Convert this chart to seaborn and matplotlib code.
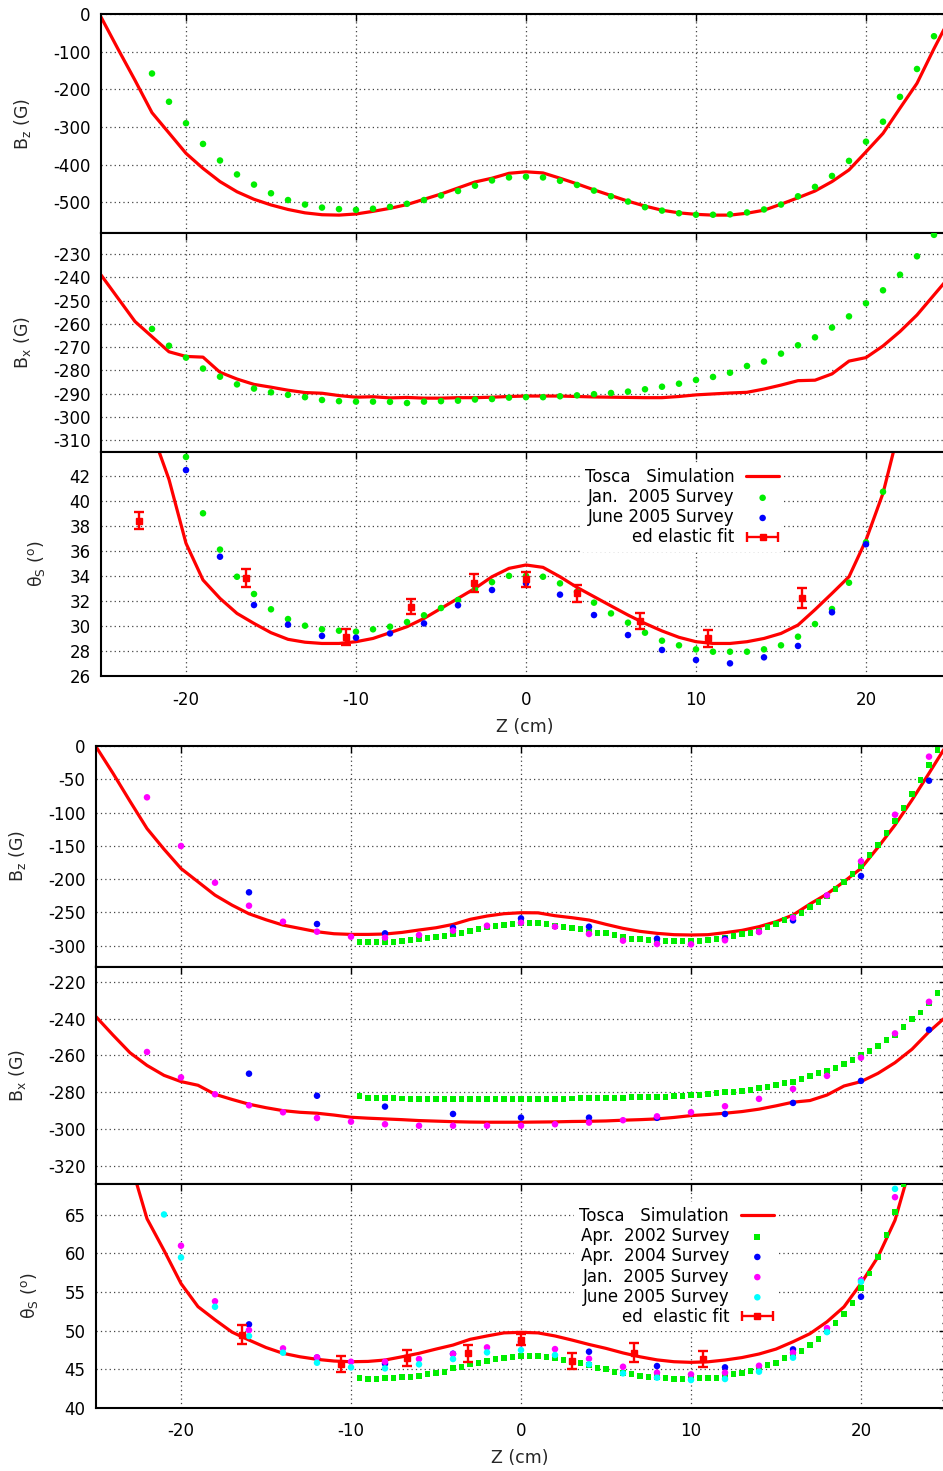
import numpy as np
import matplotlib
matplotlib.use("Agg")
import matplotlib.pyplot as plt
import seaborn as sns
from matplotlib.ticker import MultipleLocator
from matplotlib.container import ErrorbarContainer
from matplotlib.legend_handler import HandlerErrorbar

# ---------------- data: top group ----------------
z_sim = list(range(-25, 26))
bz_sim_top = [-8, -93, -176, -262, -316, -370, -410, -445, -472, -492, -507, -519, -528, -533, -534,
              -531, -524, -516, -506, -492, -478, -462, -446, -436, -423, -419, -422, -436, -451, -467,
              -482, -497, -510, -521, -528, -532, -534, -534, -529, -521, -505, -488, -470, -445, -414,
              -366, -317, -250, -184, -92, -5]
z_jan_top = list(range(-22, 25))
bz_jan_top = [-158, -233, -290, -345, -389, -426, -453, -476, -494, -506, -514, -518, -520, -517,
              -512, -504, -494, -482, -470, -456, -442, -434, -432, -434, -443, -454, -469, -484, -498,
              -513, -522, -529, -533, -533, -532, -527, -519, -506, -484, -459, -430, -390, -339, -286,
              -220, -146, -59]
bx_sim_top = [-239, -249, -259, -265.5, -272, -274, -274.3, -280.8, -283.7, -286, -287.2, -288.5,
              -289.5, -289.8, -290.8, -291.5, -291.3, -291.8, -291.6, -291.9, -291.9, -291.7, -291.7,
              -291.5, -291.2, -291.0, -291.0, -291.0, -291.2, -291.4, -291.5, -291.6, -291.7, -291.7,
              -291.2, -290.5, -290.1, -289.7, -289.4, -288.0, -286.3, -284.4, -284.2, -281.5, -276.0,
              -274.5, -269.5, -263.3, -256.2, -247.6, -239]
bx_jan_top = [-262.2, -269.4, -274.5, -279.2, -282.7, -286.0, -287.8, -289.4, -290.5, -291.5, -292.7,
              -293.2, -293.4, -293.4, -293.5, -294.0, -293.4, -293.2, -293.0, -292.5, -292.3, -291.7,
              -291.5, -291.5, -291.1, -290.7, -290.2, -289.7, -289.1, -288.1, -287.0, -285.7, -284.1,
              -282.8, -281.0, -278.1, -276.2, -272.8, -269.2, -265.8, -261.6, -256.8, -251.2, -245.6,
              -238.9, -231.0, -221.8]
z_th_sim_top = list(range(-22, 23))
th_sim_top = [45.5, 41.7, 36.6, 33.67, 32.2, 31.0, 30.2, 29.46, 28.93, 28.7, 28.6, 28.6, 28.74, 29.0,
              29.46, 29.94, 30.6, 31.4, 32.2, 33.0, 33.93, 34.6, 34.87, 34.68, 33.93, 33.08, 32.34,
              31.6, 30.87, 30.2, 29.6, 29.09, 28.74, 28.6, 28.6, 28.74, 29.0, 29.4, 30.07, 31.3, 32.6,
              33.93, 36.86, 40.6, 46.0]
z_th_jan_top = list(range(-20, 22))
th_jan_top = [43.5, 39.0, 36.1, 33.93, 32.55, 31.33, 30.55, 30.02, 29.73, 29.62, 29.54, 29.73, 29.94,
              30.31, 30.85, 31.43, 32.07, 32.95, 33.5, 34.0, 34.0, 33.93, 33.4, 32.73, 31.86, 31.0,
              30.26, 29.46, 28.82, 28.45, 28.13, 27.94, 27.94, 27.94, 28.13, 28.45, 29.14, 30.15,
              31.35, 33.45, 36.68, 40.72]
z_th_jun_top = list(range(-20, 21, 2))
th_jun_top = [42.45, 35.53, 31.67, 30.1, 29.2, 29.06, 29.4, 30.2, 31.65, 32.87, 33.4, 32.5, 30.87,
              29.27, 28.08, 27.28, 27.01, 27.49, 28.4, 31.09, 36.52]
z_fit_top = [-22.76, -16.45, -10.6, -6.74, -3.08, 0.0, 3.0, 6.69, 10.73, 16.26]
th_fit_top = [38.42, 33.8, 29.1, 31.54, 33.41, 33.73, 32.6, 30.39, 29.0, 32.2]
err_fit_top = [0.71, 0.72, 0.63, 0.61, 0.73, 0.6, 0.67, 0.67, 0.67, 0.8]

# ---------------- data: bottom group ----------------
bz_sim_bot = [-1, -41, -83, -124, -155, -184, -204, -224, -239, -252, -261, -269, -274, -279, -282,
              -283, -283, -282.4, -280, -276.4, -273, -268, -260.4, -255.4, -251.9, -250.4, -250.6,
              -254.9, -257.9, -261.4, -267.9, -273.9, -278.4, -281.4, -283.4, -283.9, -283.4, -280.4,
              -276.9, -271.4, -263.9, -253.9, -237.3, -222.3, -203.8, -183.8, -152.2, -118.7, -81.1,
              -41.0, 0]
z_apr02 = list(np.arange(-9.5, 24.75, 0.5))
bz_apr02 = [-294.9, -295, -295, -295, -294, -293, -291.5, -290.4, -288.5, -286.4, -285, -283, -280.5,
            -277.6, -275.4, -272.4, -270.4, -268.9, -266.9, -266.4, -266.4, -266.4, -267.9, -269.9,
            -271.4, -272.9, -274.9, -278.9, -280.4, -281.4, -283.9, -286.4, -289.4, -290.4, -291.4,
            -292.4, -293.4, -293.4, -293.4, -293.4, -292.4, -291.9, -290.4, -288.4, -285.4, -282.4,
            -280.4, -277.4, -272.4, -267.4, -261.4, -256.4, -250.4, -242.4, -234.8, -224.9, -215.3,
            -204.8, -192.8, -179.8, -163.7, -148.7, -131.2, -112.7, -93.6, -72.6, -51.1, -28.5, -6]
z_jan_bot = list(range(-22, 25, 2))
bz_jan_bot = [-77.1, -150.2, -205.3, -239.9, -263.9, -278.9, -286.4, -287.9, -283.9, -277.4, -269.9,
              -265.4, -271.4, -282.4, -292.4, -297.4, -297.9, -291.9, -279.4, -257.9, -224.3, -173.2,
              -103.2, -16.0]
z_apr04 = list(range(-16, 25, 4))
bz_apr04 = [-219.8, -267.4, -281.4, -272.9, -258.9, -271.4, -289.4, -289.4, -261.9, -195.3, -52.1]

bx_sim_bot = [-239, -249, -258.6, -265.5, -270.9, -274.3, -276.3, -281.2, -284, -286.6, -288.5,
              -290.1, -291, -291.5, -292.5, -293.7, -294.2, -294.6, -295, -295.5, -295.8, -296.1,
              -296.3, -296.4, -296.4, -296.4, -296.3, -296.2, -296, -295.9, -295.7, -295.3, -295,
              -294.6, -293.8, -292.8, -292.2, -291.5, -290.6, -289.3, -287.5, -285.5, -284.6, -281.6,
              -276.7, -274.3, -269.8, -264.0, -256.7, -247.2, -239]
bx_apr02 = [-282.1, -283.0, -283.0, -283.0, -283.0, -283.5, -283.9, -283.9, -283.9, -283.9, -283.9,
            -283.9, -283.9, -283.9, -283.9, -283.9, -283.9, -283.9, -283.9, -283.9, -283.9, -283.9,
            -283.9, -283.9, -283.9, -283.5, -283.2, -283.2, -283.2, -283.2, -283.2, -283.0, -282.8,
            -282.6, -282.5, -282.5, -282.5, -282.2, -282.0, -281.6, -281.4, -281.2, -280.7, -280.1,
            -279.8, -279.4, -278.9, -278.0, -277.0, -276.1, -274.9, -274.3, -272.7, -271.2, -269.8,
            -268.4, -267.1, -264.9, -262.6, -259.8, -257.7, -254.9, -251.7, -249.0, -244.5, -240.3,
            -236.7, -231.8, -226.3]
bx_jan_bot = [-258.2, -272.0, -281.2, -287.2, -291.0, -294.1, -296.1, -297.5, -298.3, -298.3, -298.3,
              -298.3, -297.5, -296.6, -295.3, -293.2, -291.0, -287.7, -283.7, -278.3, -271.2, -261.3,
              -248.1, -230.9]
bx_apr04 = [-270.0, -282.0, -287.9, -291.9, -293.9, -293.9, -294.0, -291.9, -285.9, -273.9, -246.1]

z_th_sim_bot = list(range(-23, 24))
th_sim_bot = [72, 64.5, 60.4, 56.1, 53.1, 51.4, 49.8, 48.77, 47.8, 47.05, 46.6, 46.27, 46.05, 45.96,
              46.0, 46.18, 46.6, 47.05, 47.6, 48.12, 48.86, 49.3, 49.7, 49.77, 49.7, 49.3, 48.77, 48.2,
              47.69, 47.1, 46.6, 46.2, 45.96, 45.88, 45.95, 46.18, 46.5, 46.96, 47.6, 48.55, 49.6,
              51.14, 53.08, 56.1, 59.56, 64.3, 72]
z_th_apr02 = list(np.arange(-9.5, 22.75, 0.5))
th_apr02 = [43.8, 43.68, 43.68, 43.8, 43.8, 43.94, 44.02, 44.15, 44.37, 44.54, 44.67, 45.1, 45.23,
            45.7, 45.83, 46.05, 46.31, 46.48, 46.6, 46.7, 46.74, 46.7, 46.53, 46.4, 46.18, 45.96,
            45.75, 45.5, 45.18, 45.01, 44.67, 44.54, 44.32, 44.15, 44.02, 43.94, 43.85, 43.76, 43.76,
            43.85, 43.89, 43.89, 43.89, 44.1, 44.32, 44.54, 44.71, 44.97, 45.49, 45.83, 46.4, 46.96,
            47.39, 48.08, 48.94, 49.97, 51.0, 52.2, 53.6, 55.47, 57.4, 59.56, 62.37, 65.39, 68.98]
z_th_apr04 = list(range(-16, 21, 4))
th_apr04 = [50.8, 46.5, 45.7, 47.0, 48.55, 47.26, 45.4, 45.23, 47.56, 54.38]
z_th_jan_bot = list(range(-20, 23, 2))
th_jan_bot = [61.0, 53.8, 50.06, 47.69, 46.53, 45.96, 45.96, 46.31, 46.96, 47.82, 48.34, 47.6, 46.35,
              45.31, 44.54, 44.32, 44.54, 45.44, 47.13, 50.32, 56.54, 67.29]
z_th_jun_bot = [-21] + list(range(-20, 23, 2))
th_jun_bot = [65.05, 59.48, 53.08, 49.29, 47.13, 45.83, 45.23, 45.1, 45.62, 46.31, 47.17, 47.47,
              46.83, 45.62, 44.45, 43.89, 43.59, 43.72, 44.67, 46.48, 49.8, 56.32, 68.37]
z_fit_bot = [-16.4, -10.6, -6.72, -3.1, 0.0, 2.98, 6.67, 10.69]
th_fit_bot = [49.46, 45.66, 46.44, 47.05, 48.83, 46.05, 47.15, 46.35]
err_fit_bot = [1.25, 1.08, 1.04, 1.08, 0.75, 1.08, 1.27, 1.04]

# ---------------- style ----------------
sns.set_theme(style="white")
plt.rcParams.update({
    "font.family": ["DejaVu Sans"],
    "font.size": 12,
    "mathtext.default": "regular",
    "axes.unicode_minus": False,
    "axes.linewidth": 1.5,
    "axes.edgecolor": "black",
    "text.color": "black",
    "xtick.color": "black",
    "ytick.color": "black",
})

RED, GREEN, BLUE, MAG, CYAN = "#ff0000", "#00ee00", "#0000ff", "#ff00ff", "#00ffff"
W, H = 943, 1471
fig = plt.figure(figsize=(W / 100, H / 100), dpi=100)


def add_ax(l, t, r, b):
    return fig.add_axes([l / W, 1 - b / H, (r - l) / W, (b - t) / H])


def style_ax(ax, ylim, major, minor, bottom_labels):
    ax.set_xlim(-25, 25)
    ax.set_ylim(*ylim)
    ax.xaxis.set_major_locator(MultipleLocator(10))
    ax.yaxis.set_major_locator(MultipleLocator(major))
    ax.yaxis.set_minor_locator(MultipleLocator(minor))
    ax.tick_params(which="both", direction="in", top=True, right=True, labelsize=12)
    ax.tick_params(which="major", length=5, width=1)
    ax.tick_params(which="minor", length=2.8, width=1)
    ax.tick_params(axis="y", pad=7.5)
    ax.tick_params(axis="x", pad=10.5, labelbottom=bottom_labels)
    ax.grid(True, which="major", color="#444444", linestyle=(0, (1, 2.5)), linewidth=0.9)
    for s in ax.spines.values():
        s.set_visible(True)
        s.set_linewidth(1.5)
        s.set_color("black")


def set_ylab(ax, text, xfrac):
    ax.set_ylabel(text, fontsize=12.5)
    ax.yaxis.label.set_verticalalignment("center")
    ax.yaxis.set_label_coords(xfrac, 0.5)


def set_xlab(ax, xfrac, yfrac):
    ax.set_xlabel("Z (cm)", fontsize=12.5)
    ax.xaxis.label.set_verticalalignment("center")
    ax.xaxis.set_label_coords(xfrac, yfrac)


def sim_line(ax, z, v, label=None):
    sns.lineplot(x=z, y=v, ax=ax, color=RED, linewidth=2.3, estimator=None, sort=False,
                 label=label, zorder=2)


def dots(ax, z, v, color, marker="o", s=22, label=None):
    sns.scatterplot(x=z, y=v, ax=ax, color=color, marker=marker, s=s, edgecolor="none",
                    linewidth=0, label=label, zorder=3)


def fit_bars(ax, z, v, e, label):
    eb = ax.errorbar(z, v, yerr=e, fmt="s", color=RED, ms=5, elinewidth=1.7, capsize=3.3,
                     capthick=1.7, zorder=4, label=label)
    return eb


def make_legend(ax, handles, labels, right_px, top_px):
    leg = ax.legend(handles, labels, loc="upper right",
                    bbox_to_anchor=(right_px / W, 1 - top_px / H), bbox_transform=fig.transFigure,
                    markerfirst=False, frameon=True, fancybox=False, framealpha=1,
                    edgecolor="none", facecolor="white", borderpad=0.3, borderaxespad=0,
                    handlelength=2.0, handletextpad=0.7, labelspacing=0.13, numpoints=1,
                    scatterpoints=1, fontsize=12,
                    handler_map={ErrorbarContainer: HandlerErrorbar(xerr_size=0.95)})
    leg.set_zorder(6)
    return leg


# ---------------- top group ----------------
TL, TR = 101, 951
ax1 = add_ax(TL, 14, TR, 233)
ax2 = add_ax(TL, 233, TR, 451.7)
ax3 = add_ax(TL, 451.7, TR, 676)

sim_line(ax1, z_sim, bz_sim_top)
dots(ax1, z_jan_top, bz_jan_top, GREEN)
style_ax(ax1, (-581.5, 0), 100, 20, False)
set_ylab(ax1, "B$_z$ (G)", -0.0918)
ax1.set_xlabel("")

sim_line(ax2, z_sim, bx_sim_top)
dots(ax2, z_jan_top, bx_jan_top, GREEN)
style_ax(ax2, (-314.9, -221), 10, 2, False)
set_ylab(ax2, "B$_x$ (G)", -0.0918)
ax2.set_xlabel("")

sim_line(ax3, z_th_sim_top, th_sim_top, label="Tosca   Simulation")
dots(ax3, z_th_jan_top, th_jan_top, GREEN, label="Jan.  2005 Survey")
dots(ax3, z_th_jun_top, th_jun_top, BLUE, label="June 2005 Survey")
eb_top = fit_bars(ax3, z_fit_top, th_fit_top, err_fit_top, "ed elastic fit")
style_ax(ax3, (26, 43.92), 2, 0.5, True)
set_ylab(ax3, "θ$_S$ ($^o$)", -0.0759)
set_xlab(ax3, 0.4988, -0.2274)
h, l = ax3.get_legend_handles_labels()
proxy_top = ErrorbarContainer(eb_top.lines, has_xerr=True, has_yerr=False)
make_legend(ax3, [h[0], h[1], h[2], proxy_top],
            ["Tosca   Simulation", "Jan.  2005 Survey", "June 2005 Survey", "ed elastic fit"],
            784.3, 463.0)

# ---------------- bottom group ----------------
BL, BR = 96, 946
ax4 = add_ax(BL, 746, BR, 966.5)
ax5 = add_ax(BL, 966.5, BR, 1184)
ax6 = add_ax(BL, 1184, BR, 1407.7)

sim_line(ax4, z_sim, bz_sim_bot)
dots(ax4, z_apr02, bz_apr02, GREEN, marker="s", s=18)
dots(ax4, z_apr04, bz_apr04, BLUE)
dots(ax4, z_jan_bot, bz_jan_bot, MAG)
style_ax(ax4, (-331.2, 0), 50, 10, False)
set_ylab(ax4, "B$_z$ (G)", -0.0918)
ax4.set_xlabel("")

sim_line(ax5, z_sim, bx_sim_bot)
dots(ax5, z_apr02, bx_apr02, GREEN, marker="s", s=18)
dots(ax5, z_apr04, bx_apr04, BLUE)
dots(ax5, z_jan_bot, bx_jan_bot, MAG)
style_ax(ax5, (-330, -211.7), 20, 4, False)
set_ylab(ax5, "B$_x$ (G)", -0.0918)
ax5.set_xlabel("")

sim_line(ax6, z_th_sim_bot, th_sim_bot, label="Tosca   Simulation")
dots(ax6, z_th_apr02, th_apr02, GREEN, marker="s", s=18, label="Apr.  2002 Survey")
dots(ax6, z_th_apr04, th_apr04, BLUE, label="Apr.  2004 Survey")
dots(ax6, z_th_jan_bot, th_jan_bot, MAG, label="Jan.  2005 Survey")
dots(ax6, z_th_jun_bot, th_jun_bot, CYAN, label="June 2005 Survey")
eb_bot = fit_bars(ax6, z_fit_bot, th_fit_bot, err_fit_bot, "ed  elastic fit")
style_ax(ax6, (40, 69), 5, 1, True)
set_ylab(ax6, "θ$_S$ ($^o$)", -0.0782)
set_xlab(ax6, 0.4988, -0.2249)
h, l = ax6.get_legend_handles_labels()
proxy_bot = ErrorbarContainer(eb_bot.lines, has_xerr=True, has_yerr=False)
make_legend(ax6, [h[0], h[1], h[2], h[3], h[4], proxy_bot],
            ["Tosca   Simulation", "Apr.  2002 Survey", "Apr.  2004 Survey",
             "Jan.  2005 Survey", "June 2005 Survey", "ed  elastic fit"],
            779, 1202.0)

fig.savefig("out.png", dpi=100)
